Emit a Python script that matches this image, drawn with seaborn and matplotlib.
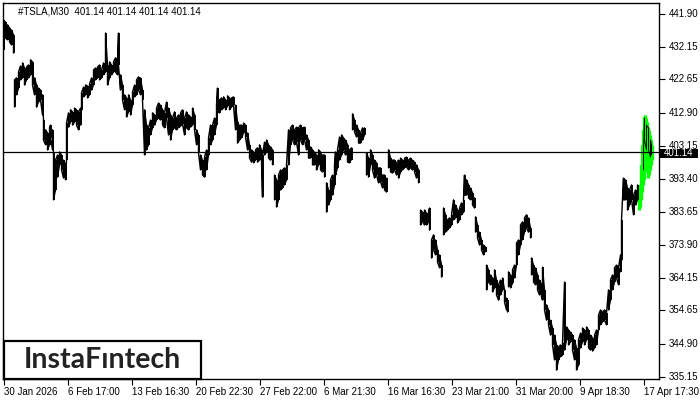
import numpy as np
import pandas as pd
import matplotlib
matplotlib.use("Agg")
import matplotlib.pyplot as plt
import seaborn as sns
from matplotlib.patches import Rectangle

# ---------------- data (TSLA, M30) ----------------
N = None
bar = [0, 2, 4, 6, 8, 10, N,
       11, 13, 15, 17, 19, 21, 23, 25, 27, 29, 31, 33, 35, 37, 39, 40, 42, 44, 46, 47, 49,
       50, 52, 54, 56, 58, 60, 62, 63, 65, 67, 69, 71, 73, 75, 77, 78, 80, 82, 84, 86, 88,
       90, 92, 94, 96, 98, 100, 102, 104, 106, 108, 110, 112, 114, 115, 117, 119, 121, 123,
       125, 127, 129, 131, 133, 135, 137, 139, 141, 143, 145, 147, 149, 151, 153, 155, 157,
       159, 161, 163, 165, 167, 169, 171, 173, 175, 177, 179, 181, 183, 185, 187, 189, 191,
       193, 195, 197, 199, 201, 203, 205, 207, 209, 211, 213, 214, 216, 218, 220, 222, 224,
       226, 228, 230, 232, 234, 236, 238, 240, 242, 244, 246, 248, 250, 252, 254, 256, 258,
       259, 261, 263, 265, 267, 269, N,
       271, 273, 275, 277, 279, 281, 283, 285, 287, 289, 291, 293, 295, 297, 299, 301, 303,
       305, 307, 309, 311, 313, 315, 317, 319, 321, N,
       323, 325, 327, 329, 331, 332, 334, 336, 338, 340, 342, 344, 346, 348, N,
       349, 351, 353, 355, 357, 359, 361, N,
       363, 365, 367, 369, 371, 373, 375, 377, 379, 381, 383, N,
       385, 387, 389, 391, 393, 395, 397, 399, 401, 403, 405, 407, 409, 411, 413, 415, N,
       417, 419, 421, 423, 425, 426, N,
       428, 430, 432, 434, 436, 438, N,
       440, 442, 444, 446, 448, 450, 452, 454, 456, 458, 460, 461, 463, 465, 467, 469, 471, N,
       472, 474, 476, 478, 480, 482, N,
       483, 485, 487, 489, 491, 493, 495, 497, 499, 501, 503, 504, N,
       505, 507, 509, 511, 513, 515, 517, 519, 521, 523, 525, 527, N,
       528, 530, 532, 534, 536, 538, 539, 541, 543, 545, 547, 549, 551, 553, 555, 557, 559,
       561, 563, 565, 567, 569, 571, 573, 575, 577, 579, 581, 583, 585, 587, 589, 591, 593,
       595, 597, 599, 601, 603, 605, 607, 609, 611, 613, 615, 617, 618, 620, 622, 624, 626,
       628, 630, 632, 634, N,
       640, 641, 643, 645, 647, 648]

high = [440.1, 439.5, 438.7, 437.8, 437.2, 435.7, N,
        422.5, 423.1, 424.8, 426.6, 427.5, 426.0, 426.3, 426.9, 428.4, 427.8, 423.1, 421.0, 420.1, 419.5, 418.1, 410.7, 407.8, 406.9, 408.4, 409.2, 407.8,
        401.0, 398.9, 400.4, 401.3, 400.4, 398.9, 397.5, 409.8, 412.8, 413.7, 413.1, 414.2, 413.7, 413.1, 414.2, 418.7, 420.4, 421.0, 420.7, 421.3, 423.1,
        425.4, 426.0, 426.3, 426.9, 425.4, 427.5, 436.3, 426.9, 427.8, 426.9, 427.8, 429.0, 428.4, 436.3, 424.0, 421.0, 418.1, 417.2,
        418.1, 416.6, 418.9, 421.0, 422.5, 423.4, 423.1, 419.5, 413.7, 409.2, 408.4, 410.7, 412.8, 412.2, 414.2, 415.7, 415.1,
        413.7, 412.8, 416.0, 414.2, 412.2, 411.3, 413.1, 411.3, 412.2, 412.8, 413.7, 411.3, 413.1, 412.2, 411.6, 414.2, 412.2,
        407.8, 406.3, 400.4, 398.9, 399.8, 401.9, 405.4, 409.2, 409.2, 411.3, 415.1, 420.1, 416.6, 417.2, 417.5, 416.6, 417.8,
        417.2, 417.2, 417.5, 415.1, 410.1, 409.2, 409.2, 409.8, 409.2, 406.9, 403.4, 401.9, 401.3, 401.9, 402.5, 403.4, 401.9,
        400.4, 404.2, 404.8, 403.4, 402.8, 401.9, N,
        394.5, 393.1, 394.5, 396.0, 396.0, 396.6, 397.5, 407.8, 408.4, 409.2, 407.8, 408.6, 408.4, 409.2, 408.4, 408.6, 406.3,
        404.8, 402.8, 401.9, 401.3, 400.4, 401.9, 401.3, 400.4, 400.4, N,
        392.2, 390.1, 393.1, 394.5, 397.5, 401.3, 401.9, 405.7, 406.3, 405.4, 404.8, 403.4, 401.9, 402.5, N,
        412.5, 410.7, 409.2, 407.8, 406.9, 408.4, 408.4, N,
        401.0, 399.5, 401.9, 400.4, 398.9, 398.1, 396.6, 396.6, 394.5, 394.5, 393.6, N,
        401.9, 399.5, 398.9, 398.9, 398.1, 398.9, 399.5, 398.9, 399.5, 399.8, 398.9, 399.5, 398.9, 398.3, 397.5, 396.0, N,
        384.2, 383.6, 384.2, 383.3, 383.6, 384.8, N,
        375.4, 376.9, 375.4, 372.5, 371.0, 368.0, N,
        384.8, 382.8, 381.3, 381.9, 382.8, 387.2, 385.7, 384.2, 384.8, 386.3, 387.2, 394.5, 393.1, 391.6, 390.7, 389.2, 387.8, N,
        382.2, 379.8, 377.7, 375.4, 373.9, 373.3, N,
        368.0, 366.6, 365.1, 364.2, 366.6, 363.6, 362.2, 363.6, 364.2, 360.7, 358.3, 357.7, N,
        366.0, 365.1, 366.6, 368.0, 374.5, 375.4, 379.8, 380.7, 381.9, 382.8, 381.9, 378.9, N,
        370.1, 368.0, 367.2, 365.1, 363.6, 362.2, 367.4, 360.7, 356.3, 354.8, 351.8, 349.5, 347.4, 344.5, 343.9, 344.5, 345.1,
        363.0, 349.8, 348.9, 348.3, 347.4, 346.0, 343.6, 346.0, 348.0, 349.5, 348.9, 349.8, 348.9, 347.4, 346.6, 347.4, 348.9,
        353.3, 354.8, 354.2, 354.8, 353.9, 360.7, 363.6, 365.1, 367.2, 368.0, 367.2, 371.0, 381.3, 393.6, 393.1, 390.7, 390.1,
        391.6, 388.6, 390.1, 391.6, N,
        401.9, 411.3, 409.2, 408.4, 404.8, 403.4]

low = [431.3, 434.8, 434.3, 433.7, 432.8, 430.4, N,
       414.5, 418.1, 420.1, 422.5, 423.1, 421.0, 422.5, 423.1, 424.0, 421.0, 418.1, 414.5, 416.0, 416.6, 412.2, 404.8, 403.4, 401.9, 403.4, 405.4, 401.9,
       387.2, 390.1, 393.9, 397.5, 396.0, 393.6, 393.1, 398.9, 408.6, 410.1, 409.2, 410.1, 409.2, 407.8, 409.2, 413.7, 417.5, 418.1, 417.2, 418.1, 419.5,
       421.0, 422.5, 423.1, 422.5, 423.1, 424.0, 424.8, 421.0, 423.1, 424.0, 424.8, 424.8, 424.0, 426.9, 419.5, 416.6, 413.7, 411.6,
       413.1, 412.2, 415.1, 417.5, 418.1, 419.5, 418.1, 416.6, 400.4, 401.9, 403.4, 406.3, 408.4, 409.2, 410.7, 411.3, 410.7,
       409.2, 408.4, 411.3, 406.3, 404.8, 407.8, 408.4, 407.8, 408.4, 408.9, 409.5, 406.3, 408.4, 407.8, 408.6, 409.2, 407.8,
       403.4, 401.0, 396.0, 394.5, 393.9, 396.0, 400.4, 403.4, 404.8, 406.3, 409.2, 413.1, 412.8, 413.7, 414.2, 413.7, 414.8,
       413.7, 414.5, 415.1, 407.8, 403.9, 404.8, 405.4, 406.9, 405.7, 401.9, 399.5, 398.3, 398.1, 398.9, 398.3, 398.9, 398.3,
       388.0, 400.4, 401.3, 399.5, 398.9, 397.5, N,
       387.2, 385.1, 387.2, 390.1, 390.7, 391.6, 393.1, 397.5, 403.4, 404.8, 403.4, 404.2, 400.4, 404.8, 403.4, 404.8, 401.9,
       399.5, 399.5, 397.5, 397.5, 396.0, 397.5, 396.0, 395.4, 393.9, N,
       383.6, 385.7, 387.2, 388.6, 391.6, 394.5, 396.6, 398.9, 400.4, 401.9, 400.4, 398.3, 398.1, 398.9, N,
       407.8, 407.2, 405.7, 403.9, 403.9, 404.8, 406.3, N,
       394.5, 393.9, 397.5, 396.0, 393.6, 394.5, 392.2, 392.5, 390.7, 390.1, 389.5, N,
       396.6, 395.4, 395.1, 396.0, 394.5, 393.6, 395.4, 396.0, 396.6, 396.9, 396.0, 396.6, 396.0, 395.4, 393.6, 392.2, N,
       379.8, 380.7, 379.8, 379.8, 380.7, 378.3, N,
       370.1, 372.5, 371.0, 368.9, 367.2, 364.5, N,
       376.9, 377.7, 378.3, 378.9, 379.8, 381.3, 381.9, 380.4, 381.3, 382.8, 383.6, 388.6, 388.6, 387.8, 387.2, 385.7, 384.8, N,
       377.7, 376.0, 373.9, 372.5, 371.0, 371.9, N,
       360.7, 363.0, 362.2, 360.1, 361.3, 359.2, 357.7, 359.2, 360.7, 357.1, 354.8, 354.2, N,
       361.6, 361.3, 362.7, 364.2, 368.0, 371.0, 373.9, 375.4, 377.7, 378.9, 377.7, 376.0, N,
       365.1, 363.0, 362.2, 360.7, 359.2, 358.6, 357.7, 354.8, 351.8, 350.4, 347.4, 344.5, 340.1, 337.1, 340.1, 341.0, 341.5,
       343.0, 346.0, 344.5, 345.4, 343.0, 340.1, 337.1, 338.6, 343.6, 345.4, 344.5, 346.0, 343.6, 343.0, 342.7, 343.6, 344.5,
       348.9, 350.4, 351.3, 351.8, 350.4, 354.8, 357.7, 360.7, 363.0, 364.2, 362.2, 366.0, 369.5, 387.2, 387.2, 384.2, 385.7,
       387.2, 382.8, 385.7, 387.2, N,
       396.0, 404.8, 401.9, 401.9, 399.8, 400.4]

# pattern bars highlighted in green (flag)
flag_bar = [635, 636, 637, 638, 639, 640, 641, 642, 643, 644, 645, 646, 647, 648]
flag_high = [388.6, 391.6, 397.5, 403.4, 407.8, 411.6, 412.2, 411.3, 410.1, 408.6, 407.8, 406.3, 404.8, 403.4]
flag_low = [384.2, 385.1, 387.2, 389.5, 391.6, 393.1, 396.0, 397.5, 395.4, 393.6, 394.5, 396.0, 397.5, 398.9]

last_price = 401.14
title = "#TSLA,M30  401.14 401.14 401.14 401.14"
price_ticks = [441.90, 432.15, 422.65, 412.90, 403.15, 393.40, 383.65, 373.90, 364.15, 354.65, 344.90, 335.15]
time_ticks = [0, 64, 128, 192, 256, 320, 384, 448, 512, 576, 640]
time_labels = ["30 Jan 2026", "6 Feb 17:00", "13 Feb 16:30", "20 Feb 22:30", "27 Feb 22:00",
               "6 Mar 21:30", "16 Mar 16:30", "23 Mar 21:00", "31 Mar 20:00", "9 Apr 18:30", "17 Apr 17:30"]
logo = "InstaF\u0131ntech"

# ---------------- build snake path table ----------------
rows = []
seg = 0
k = 0
for b, h, l in zip(bar, high, low):
    if b is None:
        seg += 1
        k = 0
        continue
    pts = [(b, l), (b, h)] if k % 2 == 0 else [(b, h), (b, l)]
    for px, py in pts:
        rows.append({"bar": px, "price": py, "seg": seg})
    k += 1
df = pd.DataFrame(rows)
last_seg = df["seg"].max()

sns.set_theme(style="white")
plt.rcParams["font.family"] = ["Liberation Sans", "DejaVu Sans"]

W, H = 700, 400
fig = plt.figure(figsize=(7, 4), dpi=100)
ax = fig.add_axes([3 / W, 21 / H, 656 / W, 376.5 / H])
ax.set_facecolor("white")

# green flag (pattern)
ax.fill_between(flag_bar, flag_low, flag_high, color="#00ff00", step="mid", lw=0, zorder=2)
ax.vlines(flag_bar, flag_low, flag_high, color="#00ff00", lw=2.4, zorder=2)

main = df[df["seg"] < last_seg]
tail = df[df["seg"] == last_seg]
sns.lineplot(data=main, x="bar", y="price", units="seg", estimator=None, sort=False,
             color="black", lw=1.0, ax=ax, zorder=3, legend=False)
sns.lineplot(data=tail, x="bar", y="price", units="seg", estimator=None, sort=False,
             color="black", lw=0.7, ax=ax, zorder=3, legend=False)
valid = [(b, h, l) for b, h, l in zip(bar, high, low) if b is not None and b < 640]
ax.vlines([v[0] for v in valid], [v[2] for v in valid], [v[1] for v in valid],
          color="black", lw=1.4, zorder=3)

ax.axhline(last_price, color="black", lw=0.9, zorder=4)

ax.set_xlim(-0.5, 655.5)
ax.set_ylim(334.48, 445.28)
for s in ax.spines.values():
    s.set_color("black")
    s.set_linewidth(1.0)
    s.set_visible(True)

ax.yaxis.tick_right()
ax.set_yticks(price_ticks)
ax.set_yticklabels([f"{v:.2f}" for v in price_ticks])
ax.set_xticks(time_ticks)
ax.set_xticklabels(time_labels, ha="left")
ax.tick_params(axis="y", right=True, left=False, length=4, width=0.8, color="black",
               labelsize=7, pad=3, labelcolor="black")
ax.tick_params(axis="x", bottom=True, length=4, width=0.8, color="black",
               labelsize=7, pad=1.5, labelcolor="black")
for t in ax.get_yticklabels():
    t.set_verticalalignment("center")
for t in ax.get_xticklabels():
    t.set_horizontalalignment("left")
ax.set_xlabel("")
ax.set_ylabel("")
ax.grid(False)

# title
fig.text(18 / W, 1 - 11.5 / H, title, fontsize=7, color="black", va="center", ha="left")

# current price box
fig.patches.append(Rectangle((660 / W, 1 - 157.8 / H), 38 / W, 8.9 / H, transform=fig.transFigure,
                             facecolor="black", edgecolor="none", zorder=10))
fig.text(679 / W, 1 - 153.3 / H, f"{last_price:.2f}", fontsize=7, color="white",
         va="center", ha="center", zorder=11)

# logo
fig.patches.append(Rectangle((3.5 / W, 21 / H), 197.5 / W, 38.5 / H, transform=fig.transFigure,
                             facecolor="white", edgecolor="black", lw=1.6, zorder=10))
fig.text(102 / W, 1 - 360 / H, logo, fontsize=20.5, color="#222222", fontfamily="Lato",
         fontweight="bold", va="center", ha="center", zorder=11)

fig.savefig("out.png", dpi=100)
